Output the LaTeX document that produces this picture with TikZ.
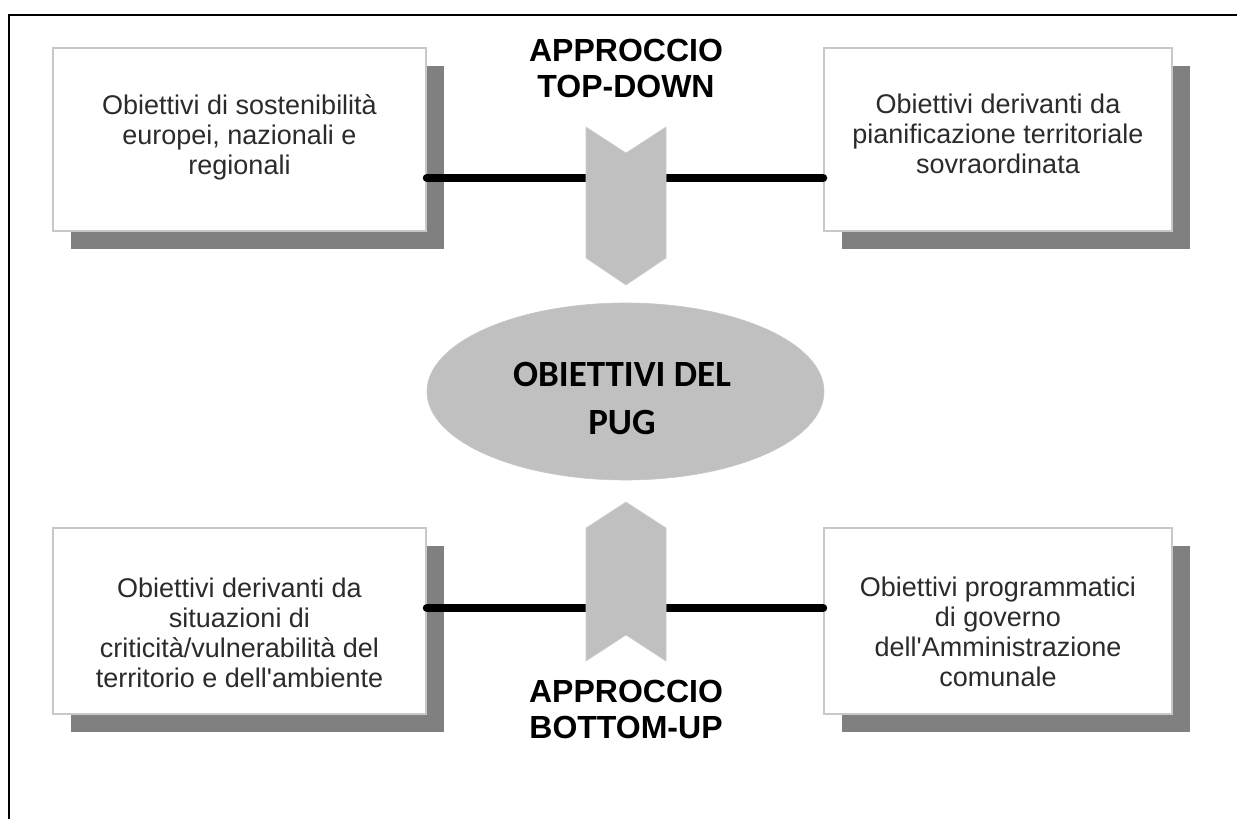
\documentclass[tikz,border=0pt]{standalone}
\usepackage{fontspec}
\setmainfont{Liberation Sans}
\newfontfamily\carlito{Carlito}
\usetikzlibrary{shapes.geometric,shadows}
\definecolor{shadowgray}{HTML}{808080}
\definecolor{chevgray}{HTML}{C0C0C0}
\definecolor{edgegray}{HTML}{C8C8C8}
\definecolor{txtgray}{HTML}{2B2B2B}
\tikzset{
  objbox/.style={draw=edgegray, line width=1.5pt, fill=white, inner sep=0pt,
    general shadow={fill=shadowgray, shadow xshift=17.5pt, shadow yshift=-17.5pt}},
  boxtext/.style={font=\fontsize{27}{30}\selectfont, text=txtgray, align=center, inner sep=0pt, anchor=north},
  header/.style={font=\bfseries\fontsize{32}{36}\selectfont, align=center, inner sep=0pt, anchor=north},
  bar/.style={line width=8pt, line cap=round, black},
  chevron/.style={fill=chevgray, draw=chevgray!80!white, line width=0.6pt},
  pugshape/.style={ellipse, fill=chevgray, draw=chevgray!90!white, line width=0.6pt,
    minimum width=397pt, minimum height=177pt, inner sep=0pt},
  pugtext/.style={font=\carlito\bfseries\fontsize{37}{48}\selectfont, align=center, inner sep=0pt, anchor=north},
  frame/.style={line width=2pt, black}
}
\begin{document}
\begin{tikzpicture}[x=1pt,y=-1pt]
\useasboundingbox (0,0) rectangle (1237,819);
% frame (top and left only)
\draw[frame] (9,819) -- (9,15) -- (1237,15);

% boxes
\node[objbox, minimum width=373pt, minimum height=183pt] (bTL) at (239.5,139.5) {};
\node[objbox, minimum width=348pt, minimum height=183pt] (bTR) at (998,139.5) {};
\node[objbox, minimum width=373pt, minimum height=186pt] (bBL) at (239.5,621) {};
\node[objbox, minimum width=348pt, minimum height=186pt] (bBR) at (998,621) {};

% box texts
\node[boxtext] (tTL) at (239.5,94) {Obiettivi di sostenibilità\\europei, nazionali e\\regionali};
\node[boxtext] (tTR) at (998,94) {Obiettivi derivanti da\\pianificazione territoriale\\sovraordinata};
\node[boxtext] (tBL) at (239.5,578) {Obiettivi derivanti da\\situazioni di\\criticità/vulnerabilità del\\territorio e dell\textquotesingle ambiente};
\node[boxtext] (tBR) at (998,577) {Obiettivi programmatici\\di governo\\dell\textquotesingle Amministrazione\\comunale};

% connector bars
\coordinate (lt) at (626,178);
\coordinate (lb) at (626,608);
\draw[bar] (bTL.east |- lt) -- (bTR.west |- lt);
\draw[bar] (bBL.east |- lb) -- (bBR.west |- lb);

% chevrons
\filldraw[chevron] (586,127) -- (626,153) -- (666,127) -- (666,258) -- (626,285) -- (586,258) -- cycle;
\filldraw[chevron] (586,528) -- (626,502) -- (666,528) -- (666,661) -- (626,635) -- (586,661) -- cycle;

% central ellipse
\node[pugshape] (pug) at (625.5,391.5) {};
\node[pugtext] (pugtxt) at (622,362) {OBIETTIVI DEL\\PUG};

% headers
\node[header] (hTop) at (626,39) {APPROCCIO\\TOP-DOWN};
\node[header] (hBot) at (626,680) {APPROCCIO\\BOTTOM-UP};
\end{tikzpicture}
\end{document}
